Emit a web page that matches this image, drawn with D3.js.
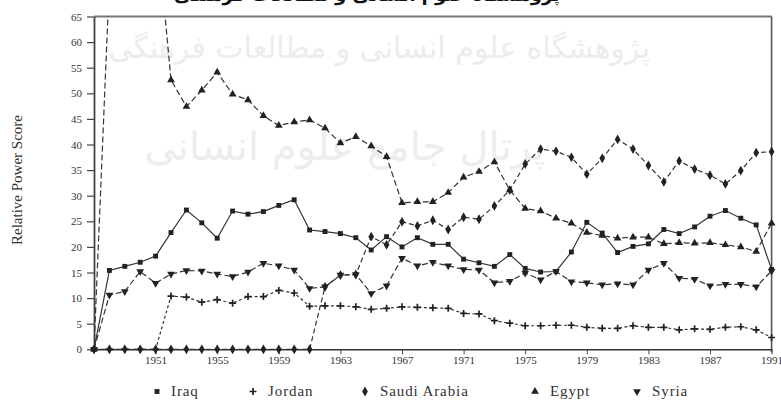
<!DOCTYPE html>
<html>
<head>
<meta charset="utf-8">
<script src="https://cdn.jsdelivr.net/npm/d3@7"></script>
<style>
  body { margin: 0; background: #fff; }
  svg text { font-family: "Liberation Serif", "Times New Roman", serif; }
</style>
</head>
<body>
<svg id="my_svg"></svg>
<script>
// years on the x axis, one point per year
const years = [1947, 1948, 1949, 1950, 1951, 1952, 1953, 1954, 1955, 1956,
  1957, 1958, 1959, 1960, 1961, 1962, 1963, 1964, 1965, 1966,
  1967, 1968, 1969, 1970, 1971, 1972, 1973, 1974, 1975, 1976,
  1977, 1978, 1979, 1980, 1981, 1982, 1983, 1984, 1985, 1986,
  1987, 1988, 1989, 1990, 1991];

// relative power scores
const iraq = [0, 15.4, 16.2, 17.0, 18.2, 22.8, 27.2, 24.7, 21.7, 27.0,
  26.4, 26.9, 28.1, 29.2, 23.3, 23.0, 22.6, 21.8, 19.4, 22.0,
  20.0, 21.8, 20.5, 20.5, 17.6, 16.9, 16.2, 18.5, 15.8, 15.1,
  15.2, 19.0, 24.8, 22.7, 18.9, 20.1, 20.6, 23.4, 22.6, 23.9,
  26.0, 27.1, 25.6, 24.3, 15.6];
const jordan = [0, 0, 0, 0, 0, 10.4, 10.2, 9.2, 9.7, 9.0,
  10.3, 10.3, 11.5, 11.0, 8.4, 8.5, 8.5, 8.3, 7.8, 8.0,
  8.3, 8.2, 8.1, 8.0, 7.0, 6.9, 5.6, 5.1, 4.6, 4.6,
  4.7, 4.7, 4.3, 4.1, 4.1, 4.6, 4.3, 4.3, 3.8, 4.0,
  3.9, 4.3, 4.4, 3.8, 2.3];
const saudi = [0, 0, 0, 0, 0, 0, 0, 0, 0, 0,
  0, 0, 0, 0, 0, 12.2, 14.5, 14.6, 22.0, 20.4,
  24.9, 24.1, 25.2, 23.4, 25.8, 25.4, 28.0, 31.1, 36.2, 39.1,
  38.7, 37.5, 34.2, 37.3, 41.0, 39.1, 35.9, 32.7, 36.8, 35.2,
  34.0, 32.3, 34.9, 38.4, 38.6];
const egypt = [0, 72, 85, 90, 85, 52.6, 47.4, 50.6, 54.1, 49.8,
  48.7, 45.6, 43.7, 44.4, 44.8, 43.2, 40.3, 41.5, 39.7, 37.6,
  28.6, 28.8, 28.8, 30.6, 33.6, 34.7, 36.6, 31.1, 27.5, 27.0,
  25.6, 24.6, 22.8, 22.2, 21.7, 21.9, 21.9, 20.6, 20.8, 20.7,
  20.8, 20.4, 20.0, 19.1, 24.6];
const syria = [0, 10.6, 11.3, 15.2, 12.9, 14.7, 15.4, 15.3, 14.7, 14.2,
  15.1, 16.8, 16.3, 15.5, 11.9, 12.2, 14.5, 14.6, 10.9, 12.4,
  17.8, 16.3, 17.0, 16.3, 15.6, 15.5, 13.0, 13.3, 14.9, 13.6,
  15.2, 13.2, 13.0, 12.6, 12.8, 12.6, 15.5, 16.8, 13.9, 13.7,
  12.4, 12.7, 12.7, 12.2, 15.3];

const countries = ['Iraq', 'Jordan', 'Saudi Arabia', 'Egypt', 'Syria'];
const xTicks = [1951, 1955, 1959, 1963, 1967, 1971, 1975, 1979, 1983, 1987, 1991];
const yTicks = [0, 5, 10, 15, 20, 25, 30, 35, 40, 45, 50, 55, 60, 65];

const width = 781;
const height = 401;
const ink = '#222';

const svg = d3.select('#my_svg')
  .attr('width', width)
  .attr('height', height);

const xScale = d3.scaleLinear()
  .domain([1947, 1991])
  .range([94, 771.6]);

const yScale = d3.scaleLinear()
  .domain([0, 65])
  .range([349.3, 16.5]);

// watermark text behind the chart
svg.append('text')
  .attr('x', 650).attr('y', 58)
  .attr('direction', 'rtl')
  .style('font-family', '"DejaVu Sans", sans-serif')
  .style('font-size', '30px')
  .attr('fill', '#ececec')
  .text('پژوهشگاه علوم انسانی و مطالعات فرهنگی');

svg.append('text')
  .attr('x', 545).attr('y', 160)
  .attr('direction', 'rtl')
  .style('font-family', '"DejaVu Sans", sans-serif')
  .style('font-size', '40px')
  .attr('fill', '#ededed')
  .text('پرتال جامع علوم انسانی');

// header text, only its lower edge shows above the chart
svg.append('text')
  .attr('x', 560).attr('y', 0.5)
  .attr('direction', 'rtl')
  .style('font-family', '"DejaVu Sans", sans-serif')
  .style('font-size', '18px')
  .style('font-weight', 'bold')
  .attr('fill', '#111')
  .text('پژوهشگاه علوم انسانی و مطالعات فرهنگی');

// frame: top and right border
svg.append('line')
  .attr('x1', xScale(1947)).attr('x2', xScale(1991))
  .attr('y1', yScale(65)).attr('y2', yScale(65))
  .attr('stroke', '#777').attr('stroke-width', 2);
svg.append('line')
  .attr('x1', xScale(1991)).attr('x2', xScale(1991))
  .attr('y1', yScale(65)).attr('y2', yScale(0) + 3)
  .attr('stroke', '#555').attr('stroke-width', 1.6);

// y axis
const yAxis = d3.axisLeft(yScale)
  .tickValues(yTicks)
  .tickSize(7)
  .tickPadding(5)
  .tickSizeOuter(0);

const yg = svg.append('g')
  .attr('transform', 'translate(94, 0)')
  .call(yAxis);
yg.select('.domain').attr('stroke', '#444').attr('stroke-width', 1.8);
yg.selectAll('.tick line').attr('stroke', '#444').attr('stroke-width', 1.2);
yg.selectAll('.tick text')
  .attr('fill', '#333')
  .style('font-size', '11px')
  .style('font-family', '"Liberation Serif", serif');

// x axis
const xAxis = d3.axisBottom(xScale)
  .tickValues(xTicks)
  .tickFormat(d3.format('d'))
  .tickSize(5)
  .tickPadding(2)
  .tickSizeOuter(0);

const xg = svg.append('g')
  .attr('transform', 'translate(0, 349.3)')
  .call(xAxis);
xg.select('.domain').attr('stroke', '#333').attr('stroke-width', 1.5);
xg.selectAll('.tick line').attr('stroke', '#444');
xg.selectAll('.tick text')
  .attr('fill', '#333')
  .style('font-size', '11px')
  .style('font-family', '"Liberation Serif", serif');

// y axis title
svg.append('text')
  .attr('transform', 'translate(22, 180) rotate(-90)')
  .attr('text-anchor', 'middle')
  .style('font-size', '15px')
  .attr('fill', '#333')
  .text('Relative Power Score');

// markers
const markerPath = {
  square: d3.symbol(d3.symbolSquare, 24)(),
  plus: 'M-3.5,0H3.5M0,-3.5V3.5',
  diamond: d3.symbol(d3.symbolDiamond, 28)(),
  up: d3.symbol(d3.symbolTriangle, 26)(),
  down: d3.symbol(d3.symbolTriangle, 26)()
};

function drawMarker(sel, kind) {
  const p = sel.append('path').attr('d', markerPath[kind]);
  if (kind === 'plus') {
    p.attr('fill', 'none').attr('stroke', ink).attr('stroke-width', 1.7);
  } else {
    p.attr('fill', ink);
  }
  if (kind === 'down') p.attr('transform', 'rotate(180)');
  return p;
}

const series = [
  { name: countries[0], values: iraq, dash: null, marker: 'square' },
  { name: countries[1], values: jordan, dash: '3,2.5', marker: 'plus' },
  { name: countries[2], values: saudi, dash: '5,3', marker: 'diamond' },
  { name: countries[3], values: egypt, dash: '6,3', marker: 'up' },
  { name: countries[4], values: syria, dash: '6,3', marker: 'down' }
];

svg.append('clipPath')
  .attr('id', 'plot_clip')
  .append('rect')
  .attr('x', xScale(1947))
  .attr('y', yScale(65))
  .attr('width', xScale(1991) - xScale(1947) + 2)
  .attr('height', yScale(0) - yScale(65) + 2);

const line = d3.line()
  .x((d, i) => xScale(years[i]))
  .y(d => yScale(d));

const graph_g = svg.append('g').attr('id', 'graph_g');

graph_g.selectAll('path.series')
  .data(series)
  .enter()
  .append('path')
  .attr('class', 'series')
  .attr('clip-path', 'url(#plot_clip)')
  .attr('d', d => line(d.values))
  .attr('fill', 'none')
  .attr('stroke', '#333')
  .attr('stroke-width', 1.2)
  .attr('stroke-dasharray', d => d.dash);

// points above 65 are off the chart, so no marker for them
series.forEach(s => {
  const pts = years
    .map((yr, i) => ({ yr: yr, v: s.values[i] }))
    .filter(p => p.v <= 65);
  const g = graph_g.append('g');
  pts.forEach(p => {
    const m = g.append('g')
      .attr('transform', `translate(${xScale(p.yr)}, ${yScale(p.v)})`);
    drawMarker(m, s.marker);
  });
});

// legend
const legendX = [157, 253, 365, 535, 637];
series.forEach((s, i) => {
  const lg = svg.append('g')
    .attr('transform', `translate(${legendX[i]}, 391.5)`);
  drawMarker(lg, s.marker);
  lg.append('text')
    .attr('x', s.marker === 'square' ? 14 : 15)
    .attr('y', 4.8)
    .style('font-size', '15px')
    .style('letter-spacing', '0.9px')
    .attr('fill', '#333')
    .text(s.name);
});
</script>
</body>
</html>
